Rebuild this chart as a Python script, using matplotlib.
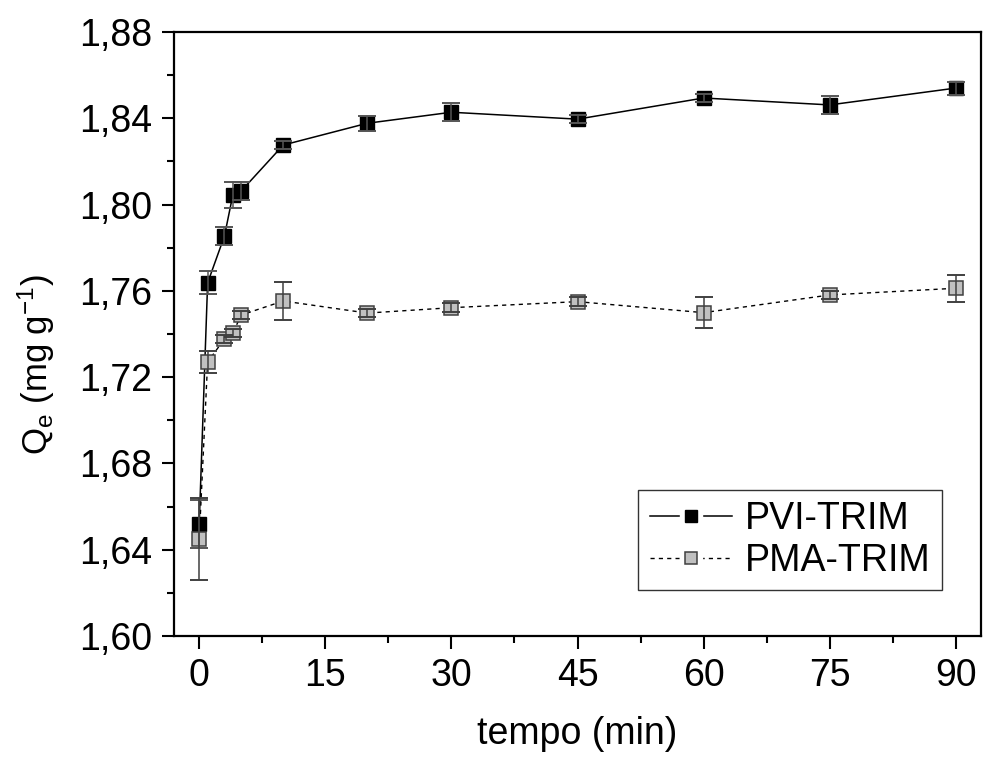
import numpy as np
import matplotlib
matplotlib.use("Agg")
import matplotlib.pyplot as plt
from matplotlib.ticker import MultipleLocator, FuncFormatter
from matplotlib.lines import Line2D
from matplotlib.legend_handler import HandlerTuple

plt.rcParams['font.family'] = ['Liberation Sans', 'DejaVu Sans']
plt.rcParams['mathtext.fontset'] = 'custom'
plt.rcParams['mathtext.rm'] = 'Liberation Sans'
plt.rcParams['mathtext.it'] = 'Liberation Sans'

# data
t_pvi = [0, 1, 3, 4, 5, 10, 20, 30, 45, 60, 75, 90]
q_pvi = [1.652, 1.7637, 1.7854, 1.8045, 1.8063, 1.8276, 1.8377, 1.8428, 1.8396, 1.8494, 1.8462, 1.8540]
e_pvi = [0.011, 0.0053, 0.004, 0.006, 0.004, 0.002, 0.0035, 0.0042, 0.002, 0.002, 0.004, 0.003]

t_pma = [0, 1, 3, 4, 5, 10, 20, 30, 45, 60, 75, 90]
q_pma = [1.645, 1.727, 1.7377, 1.7405, 1.7488, 1.7553, 1.7497, 1.7522, 1.7550, 1.7499, 1.7581, 1.7612]
e_pma = [0.019, 0.005, 0.002, 0.002, 0.002, 0.0088, 0.002, 0.002, 0.002, 0.0073, 0.002, 0.0062]

fig = plt.figure(figsize=(9.85, 7.58), dpi=100)
ax = fig.add_axes([174/985, 1 - 636/758, (981 - 174)/985, (636 - 32)/758])

# lines + markers
ax.plot(t_pvi, q_pvi, '-', color='black', lw=1.1, marker='s', ms=9.5,
        mfc='black', mec='black', mew=1, zorder=2)
ax.plot(t_pma, q_pma, '--', color='black', lw=1.0, dashes=(3, 3), marker='s', ms=9.5,
        mfc='#c0c0c0', mec='#404040', mew=1.1, zorder=2)
# error bars drawn above markers
ax.errorbar(t_pvi, q_pvi, yerr=e_pvi, fmt='none', ecolor='#555555', elinewidth=1.1,
            capsize=6.5, capthick=1.4, zorder=3)
ax.errorbar(t_pma, q_pma, yerr=e_pma, fmt='none', ecolor='#404040', elinewidth=1.1,
            capsize=6.5, capthick=1.4, zorder=3)

ax.set_xlim(-3, 93)
ax.set_ylim(1.60, 1.88)
ax.xaxis.set_major_locator(MultipleLocator(15))
ax.xaxis.set_minor_locator(MultipleLocator(7.5))
ax.yaxis.set_major_locator(MultipleLocator(0.04))
ax.yaxis.set_minor_locator(MultipleLocator(0.02))
ax.yaxis.set_major_formatter(FuncFormatter(lambda v, p: f"{v:.2f}".replace('.', ',')))

ax.tick_params(which='major', direction='out', length=9, width=1.5, labelsize=27, pad=7)
ax.tick_params(which='minor', direction='out', length=5, width=1.5)
for s in ax.spines.values():
    s.set_linewidth(1.6)

ax.set_xlabel('tempo (min)', fontsize=27, labelpad=16)
ax.set_ylabel(r'Q$_\mathregular{e}$ (mg g$^\mathregular{-1}$)', fontsize=25)
ax.yaxis.set_label_coords(-0.145, 0.45)

# origin-style legend: line - marker - line with gap
gap1 = Line2D([], [], ls='none', marker='s', ms=16, mfc='white', mec='white')
mk1 = Line2D([], [], ls='none', marker='s', ms=8, mfc='black', mec='black')
ln1 = Line2D([], [], ls='-', color='black', lw=1.1)
gap2 = Line2D([], [], ls='none', marker='s', ms=16, mfc='white', mec='white')
mk2 = Line2D([], [], ls='none', marker='s', ms=8, mfc='#c0c0c0', mec='#404040', mew=1.1)
ln2 = Line2D([], [], ls='--', color='black', lw=1.0, dashes=(3, 3))
leg = ax.legend([(ln1, gap1, mk1), (ln2, gap2, mk2)], ['PVI-TRIM', 'PMA-TRIM'],
                handler_map={tuple: HandlerTuple(ndivide=1)},
                loc='lower right', bbox_to_anchor=(0.952, 0.076), fontsize=27,
                frameon=True, fancybox=False, edgecolor='black', handlelength=2.2,
                handletextpad=0.35, borderpad=0.3, labelspacing=0.15, borderaxespad=0)
leg.get_frame().set_linewidth(1.0)

fig.savefig('out.png', dpi=100)
